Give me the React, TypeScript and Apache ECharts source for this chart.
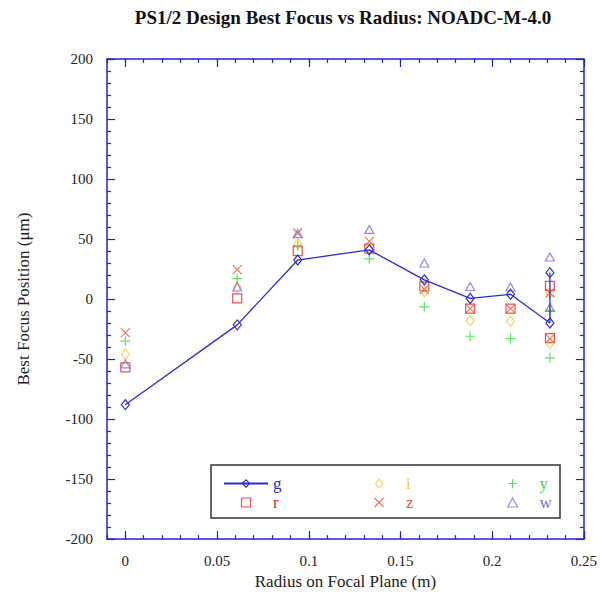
import React, { useEffect, useRef } from "react";
import * as echarts from "echarts";

const radius = [0, 0.061, 0.094, 0.133, 0.163, 0.188, 0.21, 0.2315, 0.2315];
const gValues = [-88, -21.5, 32.5, 41, 16, 0.5, 4, -20, 22];
const rValues = [-57, 0.5, 40, 42, 10.5, -8, -8, 11, -32.5];
const iValues = [-46, 10, 46, 42, 6, -18, -18.5, 5, -37];
const zValues = [-28, 24.5, 55, 48, 8, -8, -8, 5, -33];
const yValues = [-35, 17, 44.5, 33.5, -6.5, -31, -33, -9.5, -49];
const wValues = [-54, 10, 54.5, 58, 30, 10.5, 10, 35, -7];
const xMajorTicks = [0, 0.05, 0.1, 0.15, 0.2, 0.25];

const FONT = "'Liberation Serif', 'DejaVu Serif', serif";
const AXIS_BLUE = "#2222cc";

const SYM_DIAMOND = "path://M5,0L9,5L5,10L1,5Z";
const SYM_SQUARE = "path://M0,0L10,0L10,10L0,10Z";
const SYM_TRI = "path://M5,0L10,9L0,9Z";
const SYM_PLUS = "path://M5,0L5,10M0,5L10,5";
const SYM_X = "path://M0,0L10,10M10,0L0,10";

const COLORS = {
  g: "#2b2bd9",
  r: "#ee2222",
  i: "#ffc833",
  z: "#ee5533",
  y: "#33e033",
  w: "#8866dd",
};

function pairs(vals: number[]) {
  return radius.map((x, k) => [x, vals[k]]);
}

export default function App() {
  const ref = useRef<HTMLDivElement>(null);
  useEffect(() => {
    if (!ref.current) return;
    const chart = echarts.init(ref.current, undefined, { renderer: "svg" });
    const axisLine = { show: true, onZero: false, lineStyle: { color: AXIS_BLUE, width: 1.5 } };
    const tickStyle = { color: AXIS_BLUE, width: 1.2 };
    const label = { fontFamily: FONT, fontSize: 15, color: "#222" };
    const baseX = {
      type: "value" as const,
      min: -0.01,
      max: 0.25,
      splitLine: { show: false },
    };
    const scatter = (name: string, vals: number[], symbol: string, size: any, color: string) => ({
      name,
      type: "scatter",
      data: pairs(vals),
      symbol,
      symbolSize: size,
      itemStyle: { color: "transparent", borderColor: color, borderWidth: 1.2 },
      xAxisIndex: 0,
      yAxisIndex: 0,
    });
    const legendBase = {
      orient: "vertical",
      top: 475,
      padding: 0,
      itemWidth: 44,
      itemHeight: 9,
      itemGap: 2,
      selectedMode: false,
      itemStyle: { color: "transparent", borderWidth: 1.2 },
      textStyle: { fontFamily: FONT, fontSize: 17 },
    };
    chart.setOption({
      animation: false,
      backgroundColor: "#fff",
      grid: { left: 107, right: 12, top: 59, bottom: 55, containLabel: false },
      graphic: [
        {
          type: "text",
          x: 343,
          y: 8,
          style: {
            text: "PS1/2 Design Best Focus vs Radius: NOADC-M-4.0",
            align: "center",
            verticalAlign: "top",
            textAlign: "center",
            textVerticalAlign: "top",
            fontFamily: FONT,
            fontSize: 19,
            fontWeight: "bold",
            fill: "#111",
          },
        },
        {
          type: "rect",
          z: 1,
          shape: { x: 211, y: 465, width: 349, height: 53 },
          style: { fill: "#fff", stroke: "#333", lineWidth: 1.5 },
        },
      ],
      legend: [
        {
          ...legendBase,
          left: 223,
          data: [
            { name: "g", textStyle: { color: COLORS.g } },
            { name: "r", textStyle: { color: COLORS.r } },
          ],
        },
        {
          ...legendBase,
          left: 374,
          data: [
            { name: "i", textStyle: { color: COLORS.i } },
            { name: "z", textStyle: { color: COLORS.z } },
          ],
        },
        {
          ...legendBase,
          left: 507,
          data: [
            { name: "y", textStyle: { color: COLORS.y } },
            { name: "w", textStyle: { color: COLORS.w } },
          ],
        },
      ],
      xAxis: [
        {
          ...baseX,
          position: "bottom",
          interval: 0.01,
          axisLine,
          axisTick: { show: true, inside: true, length: 4, lineStyle: tickStyle },
          axisLabel: {
            ...label,
            margin: 14,
            customValues: xMajorTicks,
            formatter: (v: number) => String(+v.toFixed(2)),
          },
          name: "Radius on Focal Plane (m)",
          nameLocation: "middle",
          nameGap: 30,
          nameTextStyle: { fontFamily: FONT, fontSize: 17, color: "#222" },
        },
        {
          ...baseX,
          position: "bottom",
          axisLine: { show: false, onZero: false },
          axisTick: { show: true, inside: true, length: 8, lineStyle: tickStyle, customValues: xMajorTicks },
          axisLabel: { show: false },
        },
        {
          ...baseX,
          position: "top",
          interval: 0.01,
          axisLine,
          axisTick: { show: true, inside: true, length: 4, lineStyle: tickStyle },
          axisLabel: { show: false },
        },
        {
          ...baseX,
          position: "top",
          axisLine: { show: false, onZero: false },
          axisTick: { show: true, inside: true, length: 8, lineStyle: tickStyle, customValues: xMajorTicks },
          axisLabel: { show: false },
        },
      ],
      yAxis: [
        {
          type: "value",
          position: "left",
          min: -200,
          max: 200,
          interval: 50,
          splitLine: { show: false },
          axisLine,
          axisTick: { show: true, inside: true, length: 8, lineStyle: tickStyle },
          minorTick: { show: true, splitNumber: 5, length: 4, lineStyle: tickStyle },
          axisLabel: { ...label, margin: 14 },
          name: "Best Focus Position (\u03bcm)",
          nameLocation: "middle",
          nameGap: 75,
          nameTextStyle: { fontFamily: FONT, fontSize: 17, color: "#222" },
        },
        {
          type: "value",
          position: "right",
          min: -200,
          max: 200,
          interval: 50,
          splitLine: { show: false },
          axisLine,
          axisTick: { show: true, inside: true, length: 8, lineStyle: tickStyle },
          minorTick: { show: true, splitNumber: 5, length: 4, lineStyle: tickStyle },
          axisLabel: { show: false },
        },
      ],
      series: [
        {
          name: "g",
          type: "line",
          data: pairs(gValues),
          symbol: SYM_DIAMOND,
          symbolSize: [8, 10],
          showAllSymbol: true,
          lineStyle: { color: COLORS.g, width: 1.3 },
          itemStyle: { color: "transparent", borderColor: COLORS.g, borderWidth: 1.2 },
          xAxisIndex: 0,
          yAxisIndex: 0,
          z: 3,
        },
        scatter("r", rValues, SYM_SQUARE, 9, COLORS.r),
        scatter("i", iValues, SYM_DIAMOND, [8, 10], COLORS.i),
        scatter("z", zValues, SYM_X, 9, COLORS.z),
        scatter("y", yValues, SYM_PLUS, 10, COLORS.y),
        scatter("w", wValues, SYM_TRI, [9, 8], COLORS.w),
      ],
    });
    return () => chart.dispose();
  }, []);
  return (
    <div
      ref={ref}
      style={{ position: "absolute", left: 0, top: 0, width: 600, height: 595 }}
    />
  );
}
